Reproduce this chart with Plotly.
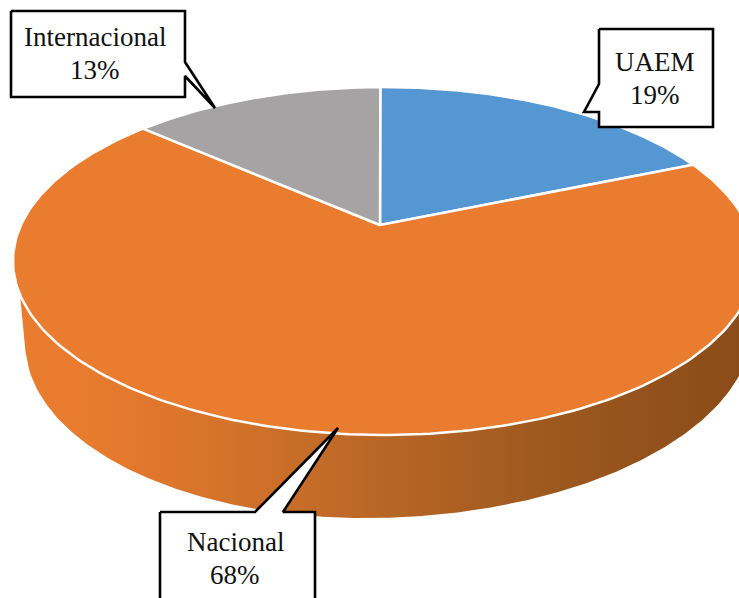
import numpy as np
import plotly.graph_objects as go

categories = ["UAEM", "Nacional", "Internacional"]
percent_values = [18.8, 67.8, 13.4]
percent_labels = ["19%", "68%", "13%"]
slice_colors = ["#5597D3", "#EA7C2F", "#A5A3A4"]

W, H = 739, 598
# perspective disc projection in pixel space
APEX = (380, 225)
RIM_CX, B, A, K = 384, 363, 166.55, 0.2069
START_DEG = -0.7


def rim(theta_deg):
    t = np.radians(theta_deg)
    d = 1 + K * np.cos(t)
    return RIM_CX + B * np.sin(t) / d, APEX[1] - A * np.cos(t) / d


fig = go.Figure()

# extruded side wall
t_front = np.linspace(95, 264, 300)
ux, uy = rim(t_front)
lx = np.linspace(25.5, 765, 400)
rx = np.where(lx < 380, 355, 372)
ly = 335 + 183 * np.sqrt(np.clip(1 - ((lx - 380) / rx) ** 2, 0, 1)) - 0.02 * (lx - 380)
fig.add_trace(go.Scatter(
    x=np.r_[ux, lx], y=np.r_[uy, ly], mode="lines", line=dict(width=0),
    fill="toself",
    fillgradient=dict(type="horizontal", start=0, stop=W, colorscale=[
        [0, "#EA7C2F"], [0.12, "#E87B2E"], [0.30, "#D5732A"], [0.47, "#BE6927"],
        [0.75, "#9C581E"], [1, "#8A4C19"]]),
    hoverinfo="skip", showlegend=False))

# top surface slices
angle = START_DEG
for name, val, col in zip(categories, percent_values, slice_colors):
    span = val / sum(percent_values) * 360
    th = np.linspace(angle, angle + span, 240)
    rx_, ry_ = rim(th)
    fig.add_trace(go.Scatter(
        x=np.r_[APEX[0], rx_, APEX[0]], y=np.r_[APEX[1], ry_, APEX[1]],
        mode="lines", fill="toself", fillcolor=col, line=dict(color="white", width=2.5),
        name=name, hoverinfo="name", showlegend=False))
    angle += span

# callouts
callouts = [
    ("Internacional", "13%", [11, 185, 185, 215, 185, 185, 11, 11], [11, 11, 62, 108, 76, 97, 97, 11], 95, [37, 70]),
    ("UAEM", "19%", [599, 713, 713, 599, 599, 584, 599, 599], [29, 29, 127, 127, 112, 112, 84, 29], 655, [62, 95]),
    ("Nacional", "68%", [160, 255, 338, 283, 315, 315, 160, 160], [512, 512, 428, 512, 512, 620, 620, 512], 235, [542, 575]),
]
for name, pct, cx, cy, tx, tys in callouts:
    fig.add_trace(go.Scatter(x=cx, y=cy, mode="lines", fill="toself", fillcolor="white",
                             line=dict(color="black", width=2.6), hoverinfo="skip", showlegend=False))
    for line, ty in zip((name, pct), tys):
        fig.add_annotation(x=tx, y=ty, text=line, showarrow=False, xref="x", yref="y",
                           font=dict(family="Liberation Serif", size=27, color="#111111"))

fig.update_layout(
    width=W, height=H, margin=dict(l=0, r=0, t=0, b=0), paper_bgcolor="white", plot_bgcolor="white",
    xaxis=dict(range=[0, W], visible=False), yaxis=dict(range=[H, 0], visible=False), showlegend=False)
fig.write_html("out.html", config={"displayModeBar": False}, post_script="document.body.style.margin='0';")
